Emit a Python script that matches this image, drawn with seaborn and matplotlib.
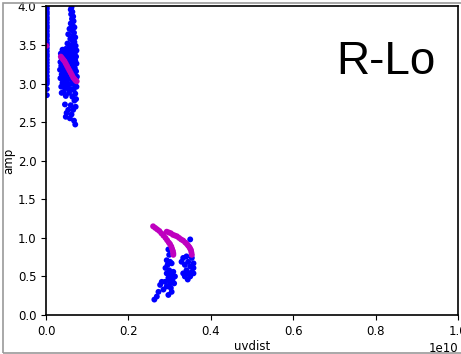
import numpy as np
import pandas as pd
import matplotlib
matplotlib.use("Agg")
import matplotlib.pyplot as plt
from matplotlib.patches import Rectangle
import seaborn as sns

# ---- data (uvdist in units of 1e9, amplitude) ----
# short-baseline column at uvdist ~ 0
blue_u0 = [0.02] * 30
blue_a0 = [4.00, 3.97, 3.93, 3.90, 3.86, 3.83, 3.79, 3.75, 3.72, 3.68,
           3.64, 3.61, 3.57, 3.53, 3.50, 3.46, 3.42, 3.38, 3.35, 3.31,
           3.27, 3.23, 3.19, 3.15, 3.10, 3.06, 3.03, 3.00, 2.93, 2.85]

# cluster near 0.05e10
blue_u1 = [0.62, 0.60, 0.64, 0.61, 0.66, 0.63, 0.67, 0.60, 0.65, 0.69,
           0.57, 0.63, 0.68, 0.54, 0.66, 0.71, 0.59, 0.64, 0.69, 0.52,
           0.62, 0.72, 0.57, 0.67, 0.48,
           0.40, 0.46, 0.55, 0.63, 0.70, 0.74,
           0.36, 0.43, 0.51, 0.60, 0.68, 0.73,
           0.38, 0.47, 0.56, 0.65, 0.71,
           0.35, 0.42, 0.50, 0.59, 0.67, 0.74,
           0.37, 0.45, 0.54, 0.62, 0.70,
           0.34, 0.41, 0.49, 0.57, 0.66, 0.73,
           0.38, 0.46, 0.53, 0.61, 0.69, 0.75,
           0.35, 0.43, 0.51, 0.58, 0.65, 0.72,
           0.40, 0.48, 0.55, 0.63, 0.70, 0.74,
           0.37, 0.45, 0.52, 0.60, 0.67,
           0.43, 0.56, 0.71, 0.48, 0.64, 0.73, 0.69, 0.46, 0.60, 0.72,
           0.54, 0.66, 0.38, 0.50, 0.62, 0.48, 0.58, 0.68, 0.71]
blue_a1 = [3.99, 3.96, 3.93, 3.90, 3.87, 3.84, 3.81, 3.78, 3.75, 3.73,
           3.71, 3.69, 3.66, 3.64, 3.62, 3.60, 3.58, 3.56, 3.54, 3.52,
           3.50, 3.49, 3.47, 3.46, 3.45,
           3.44, 3.43, 3.42, 3.41, 3.40, 3.43,
           3.39, 3.38, 3.37, 3.36, 3.37, 3.35,
           3.33, 3.32, 3.31, 3.32, 3.30,
           3.28, 3.27, 3.26, 3.27, 3.25, 3.26,
           3.23, 3.22, 3.21, 3.22, 3.20,
           3.18, 3.17, 3.16, 3.17, 3.15, 3.16,
           3.12, 3.11, 3.12, 3.10, 3.11, 3.09,
           3.07, 3.06, 3.05, 3.06, 3.04, 3.03,
           3.01, 3.00, 2.99, 3.00, 2.98, 2.96,
           2.96, 2.95, 2.94, 2.93, 2.92,
           2.89, 2.88, 2.87, 2.84, 2.83, 2.80, 2.78, 2.73, 2.72, 2.70,
           2.66, 2.66, 2.88, 2.62, 2.60, 2.57, 2.55, 2.52, 2.47]

# long-baseline clusters near 0.3e10
blue_u2 = [2.97, 2.99, 2.93, 3.01, 2.95, 3.05, 2.90, 2.99, 3.09, 2.93,
           3.03, 3.13, 2.97, 3.07, 2.89, 3.01, 2.81, 2.77, 3.11, 2.93,
           3.03, 2.73, 2.85, 3.05, 2.97, 2.69, 2.63, 3.00,
           3.33, 3.41, 3.54, 3.29, 3.45, 3.58, 3.37, 3.50, 3.58, 3.41,
           3.54, 3.33, 3.45, 3.58, 3.37, 3.50, 3.44, 3.50]
blue_a2 = [0.85, 0.78, 0.71, 0.69, 0.65, 0.67, 0.61, 0.58, 0.56, 0.54,
           0.52, 0.50, 0.48, 0.46, 0.43, 0.41, 0.43, 0.39, 0.41, 0.37,
           0.35, 0.30, 0.33, 0.30, 0.26, 0.24, 0.20, 0.45,
           0.74, 0.76, 0.74, 0.69, 0.69, 0.67, 0.65, 0.63, 0.61, 0.58,
           0.56, 0.54, 0.54, 0.54, 0.50, 0.50, 0.46, 0.98]

# model (magenta) points
mag_u = [0.01,
         0.36, 0.39, 0.42, 0.45, 0.48, 0.51, 0.54, 0.57, 0.60, 0.63,
         0.66, 0.69, 0.72, 0.745,
         2.60, 2.65, 2.70, 2.75, 2.80, 2.85, 2.90, 2.94, 2.98, 3.01,
         3.04, 3.06, 3.08, 3.09, 3.09,
         2.93, 2.98, 3.03, 3.08, 3.13, 3.18, 3.23, 3.28, 3.33, 3.38,
         3.42, 3.45, 3.48, 3.50, 3.52, 3.53, 3.54]
mag_a = [3.49,
         3.35, 3.33, 3.31, 3.29, 3.26, 3.23, 3.20, 3.17, 3.14, 3.11,
         3.08, 3.06, 3.04, 3.03,
         1.15, 1.13, 1.11, 1.09, 1.06, 1.03, 1.00, 0.97, 0.94, 0.92,
         0.89, 0.86, 0.83, 0.80, 0.78,
         1.08, 1.07, 1.06, 1.04, 1.03, 1.02, 1.00, 0.98, 0.965, 0.94,
         0.92, 0.90, 0.88, 0.86, 0.84, 0.81, 0.78]

blue_u = blue_u0 + blue_u1 + blue_u2
blue_a = blue_a0 + blue_a1 + blue_a2

df = pd.DataFrame({
    "uvdist": np.array(blue_u + mag_u) * 1e9,
    "amp": blue_a + mag_a,
    "kind": ["data"] * len(blue_u) + ["model"] * len(mag_u),
})

fig = plt.figure(figsize=(4.61, 3.54), dpi=100)
ax = fig.add_axes([46 / 461, 39 / 354, 412 / 461, 308.5 / 354])

sns.scatterplot(data=df, x="uvdist", y="amp", hue="kind",
                palette={"data": "b", "model": "m"}, s=18, linewidth=0,
                legend=False, ax=ax)

ax.set_xlim(0, 1e10)
ax.set_ylim(0, 4)
ax.set_yticks(np.arange(0, 4.01, 0.5))
ax.set_xlabel("uvdist", fontsize=8.5, labelpad=2)
ax.set_ylabel("amp", fontsize=8.5, labelpad=2)
ax.tick_params(labelsize=8.5, length=3.5)
ax.xaxis.get_offset_text().set_fontsize(8.5)
for sp in ax.spines.values():
    sp.set_linewidth(1.2)

ax.text(0.825, 0.82, "R-Lo", transform=ax.transAxes, fontsize=33,
        family="Liberation Sans", ha="center", va="center")

fig.add_artist(Rectangle((3 / 461, 1.5 / 354), 1.0, 349.5 / 354,
                         transform=fig.transFigure, fill=False,
                         edgecolor="#9a9a9a", linewidth=1.2, clip_on=False))

fig.savefig("out.png", dpi=100)
